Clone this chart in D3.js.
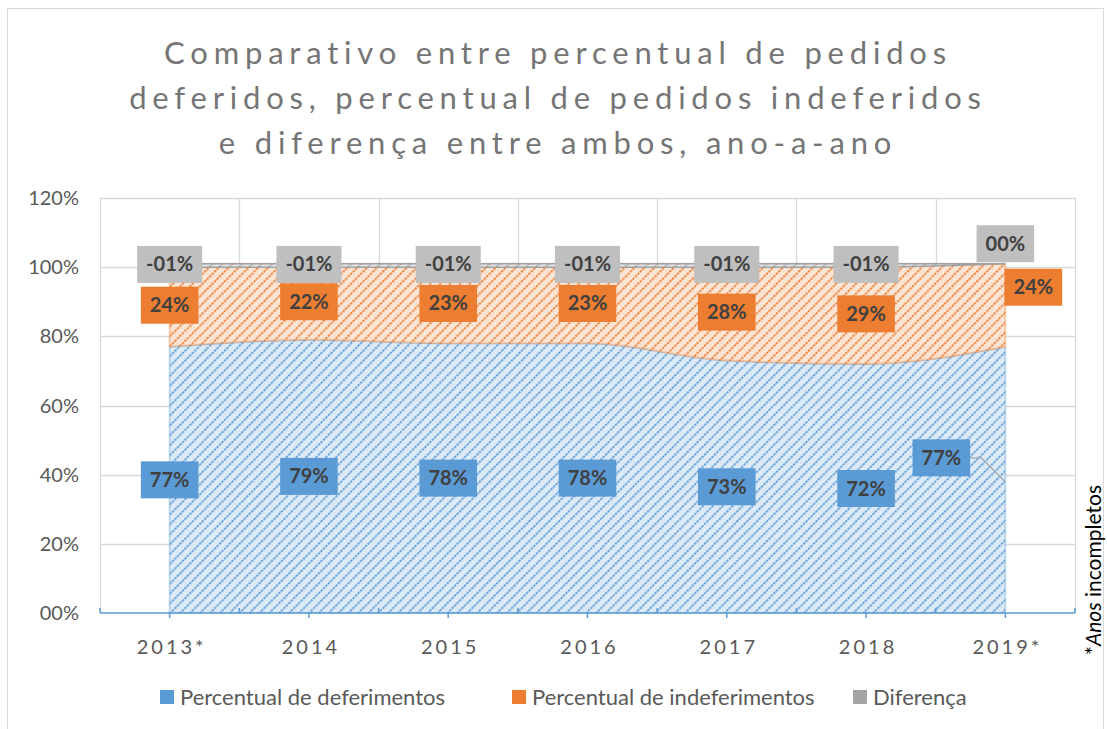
<!DOCTYPE html>
<html>
<head>
<meta charset="utf-8">
<script src="https://cdn.jsdelivr.net/npm/d3@7"></script>
<style>
  body { margin: 0; background: #fff; }
  svg { display: block; font-family: Lato, "Noto Sans", sans-serif; }
</style>
</head>
<body>
<script>
// dados
const anos = ["2013*", "2014", "2015", "2016", "2017", "2018", "2019*"];
const deferimentos = [77, 79, 78, 78, 73, 72, 77];
const indeferimentos = [24, 22, 23, 23, 28, 29, 24];
const diferenca = [-1, -1, -1, -1, -1, -1, 0];
const yTicks = [0, 20, 40, 60, 80, 100, 120];
const series = ["Percentual de deferimentos", "Percentual de indeferimentos", "Diferença"];

const width = 1107, height = 729;
const margin = { left: 100, right: 32, top: 198, bottom: 116 };

const svg = d3.select("body").append("svg")
    .attr("width", width)
    .attr("height", height);

const cores = { def: "#5b9bd5", ind: "#ed7d31", dif: "#a5a5a5" };

// padrões hachurados
const defs = svg.append("defs");
function hatch(id, bg, fg) {
    const p = defs.append("pattern")
        .attr("id", id)
        .attr("patternUnits", "userSpaceOnUse")
        .attr("width", 7).attr("height", 7)
        .attr("patternTransform", "rotate(45)");
    p.append("rect").attr("width", 7).attr("height", 7).attr("fill", bg);
    p.append("line")
        .attr("x1", 0).attr("y1", 0).attr("x2", 0).attr("y2", 7)
        .attr("stroke", fg).attr("stroke-width", 3.4)
        .attr("stroke-dasharray", "2.5,1");
}
hatch("hDef", "#dce9f6", cores.def);
hatch("hInd", "#fce4d4", cores.ind);
hatch("hDif", "#e4e4e4", cores.dif);

// moldura
svg.append("rect")
    .attr("x", 7.5).attr("y", 8.5)
    .attr("width", 1096).attr("height", 740)
    .attr("fill", "none").attr("stroke", "#d9d9d9");

// título
const titulo = ["Comparativo entre percentual de pedidos",
    "deferidos, percentual de pedidos indeferidos",
    "e diferença entre ambos, ano-a-ano"];
svg.append("text")
    .attr("x", 555).attr("y", 64)
    .attr("text-anchor", "middle")
    .style("font-size", "31px")
    .style("letter-spacing", "5.8px")
    .style("fill", "#757575")
    .selectAll("tspan").data(titulo).enter().append("tspan")
    .attr("x", 558)
    .attr("dy", (d, i) => i === 0 ? 0 : 45)
    .text(d => d);

const x = d3.scaleBand()
    .domain(anos)
    .range([margin.left, width - margin.right]);
const cx = d => x(d) + x.bandwidth() / 2;

const y = d3.scaleLinear()
    .domain([0, 120])
    .range([height - margin.bottom, margin.top]);

// grade
const grid = svg.append("g").attr("stroke", "#d9d9d9").attr("stroke-width", 1.3);
grid.selectAll(".h").data(yTicks.slice(1)).enter().append("line")
    .attr("x1", margin.left).attr("x2", width - margin.right)
    .attr("y1", d => Math.round(y(d)) + 0.5).attr("y2", d => Math.round(y(d)) + 0.5);
const bordas = anos.map(a => x(a)).concat([width - margin.right]);
grid.selectAll(".v").data(bordas).enter().append("line")
    .attr("x1", d => Math.round(d) + 0.5).attr("x2", d => Math.round(d) + 0.5)
    .attr("y1", y(120)).attr("y2", y(0));

// empilhamento
const tabela = anos.map((a, i) => ({
    ano: a, def: deferimentos[i], ind: indeferimentos[i], dif: diferenca[i]
}));
const stack = d3.stack().keys(["def", "ind", "dif"]);
const camadas = stack(tabela);

const area = d3.area()
    .x(d => cx(d.data.ano))
    .y0(d => y(d[0]))
    .y1(d => y(d[1]))
    .curve(d3.curveMonotoneX);

const fills = { def: "url(#hDef)", ind: "url(#hInd)", dif: "url(#hDif)" };
svg.append("g").selectAll("path").data(camadas).enter().append("path")
    .attr("d", area)
    .attr("fill", d => fills[d.key])
    .attr("stroke", d => d.key === "dif" ? "#9a9a9a" : cores[d.key])
    .attr("stroke-opacity", d => d.key === "dif" ? 0.9 : 0.35)
    .attr("stroke-width", d => d.key === "dif" ? 1.5 : 2);

// eixo x
const ax = svg.append("g").attr("stroke", cores.def).attr("stroke-width", 1.5);
ax.append("line")
    .attr("x1", margin.left).attr("x2", width - margin.right)
    .attr("y1", y(0)).attr("y2", y(0));
ax.selectAll(".tc").data(anos).enter().append("line")
    .attr("x1", d => cx(d)).attr("x2", d => cx(d))
    .attr("y1", y(0)).attr("y2", y(0) + 5);
ax.selectAll(".tb").data(bordas).enter().append("line")
    .attr("x1", d => d).attr("x2", d => d)
    .attr("y1", y(0) - 5).attr("y2", y(0));

svg.append("g").selectAll("text").data(anos).enter().append("text")
    .attr("x", d => cx(d) + 2)
    .attr("y", y(0) + 41)
    .attr("text-anchor", "middle")
    .style("font-size", "20px")
    .style("letter-spacing", "3px")
    .style("fill", "#595959")
    .text(d => d);

// eixo y
const fmtPct = v => (v < 0 ? "-" : "") + d3.format("02d")(Math.abs(v)) + "%";
svg.append("g").selectAll("text").data(yTicks).enter().append("text")
    .attr("x", 79)
    .attr("y", d => y(d) + 7)
    .attr("text-anchor", "end")
    .style("font-size", "20px")
    .style("fill", "#595959")
    .text(d => fmtPct(d));

// rótulos de dados
const rotulos = svg.append("g");
function rotulo(px, py, txt, bg) {
    const g = rotulos.append("g");
    const t = g.append("text")
        .attr("x", px).attr("y", py + 7)
        .attr("text-anchor", "middle")
        .style("font-size", "20px")
        .style("font-weight", "bold")
        .style("fill", "#404040")
        .text(txt);
    const w = t.node().getComputedTextLength() + 18;
    g.insert("rect", "text")
        .attr("x", px - w / 2).attr("y", py - 18.5)
        .attr("width", w).attr("height", 37)
        .attr("fill", bg);
}

camadas.forEach(c => {
    c.forEach((d, i) => {
        const ultimo = i === anos.length - 1;
        let px = cx(d.data.ano);
        let py = y((d[0] + d[1]) / 2);
        const v = d.data[c.key];
        if (c.key === "def" && ultimo) {
            px -= 64; py -= 22;
            svg.append("polyline")
                .attr("points", [[px + 29, py], [px + 40, py], [cx(d.data.ano), py + 24]].join(" "))
                .attr("fill", "none").attr("stroke", "#a5a5a5").attr("stroke-width", 1.3);
        }
        if (c.key === "ind" && ultimo) { px += 28; py -= 18; }
        if (c.key === "dif" && ultimo) { px -= 0; py -= 20; }
        if (c.key === "dif" && !ultimo) { py -= 1; }
        const bg = c.key === "def" ? cores.def : c.key === "ind" ? cores.ind : "#bfbfbf";
        rotulo(px, py, fmtPct(v), bg);
    });
});
rotulos.raise();

// nota lateral
svg.append("text")
    .attr("transform", `translate(1101, ${y(0) + 42}) rotate(-90)`)
    .attr("text-anchor", "start")
    .style("font-size", "21px")
    .style("fill", "#000")
    .call(t => {
        t.append("tspan").text("*");
        t.append("tspan").style("font-style", "italic").text("Anos");
        t.append("tspan").text(" incompletos");
    });

// legenda
const legX = [160, 512, 853];
const leg = svg.append("g").selectAll("g").data(series).enter().append("g")
    .attr("transform", (d, i) => `translate(${legX[i]}, 690)`);
leg.append("rect")
    .attr("width", 14).attr("height", 14)
    .attr("fill", (d, i) => [cores.def, cores.ind, cores.dif][i]);
leg.append("text")
    .attr("x", 20).attr("y", 15)
    .style("font-size", "22px")
    .style("fill", "#595959")
    .text(d => d);
</script>
</body>
</html>
